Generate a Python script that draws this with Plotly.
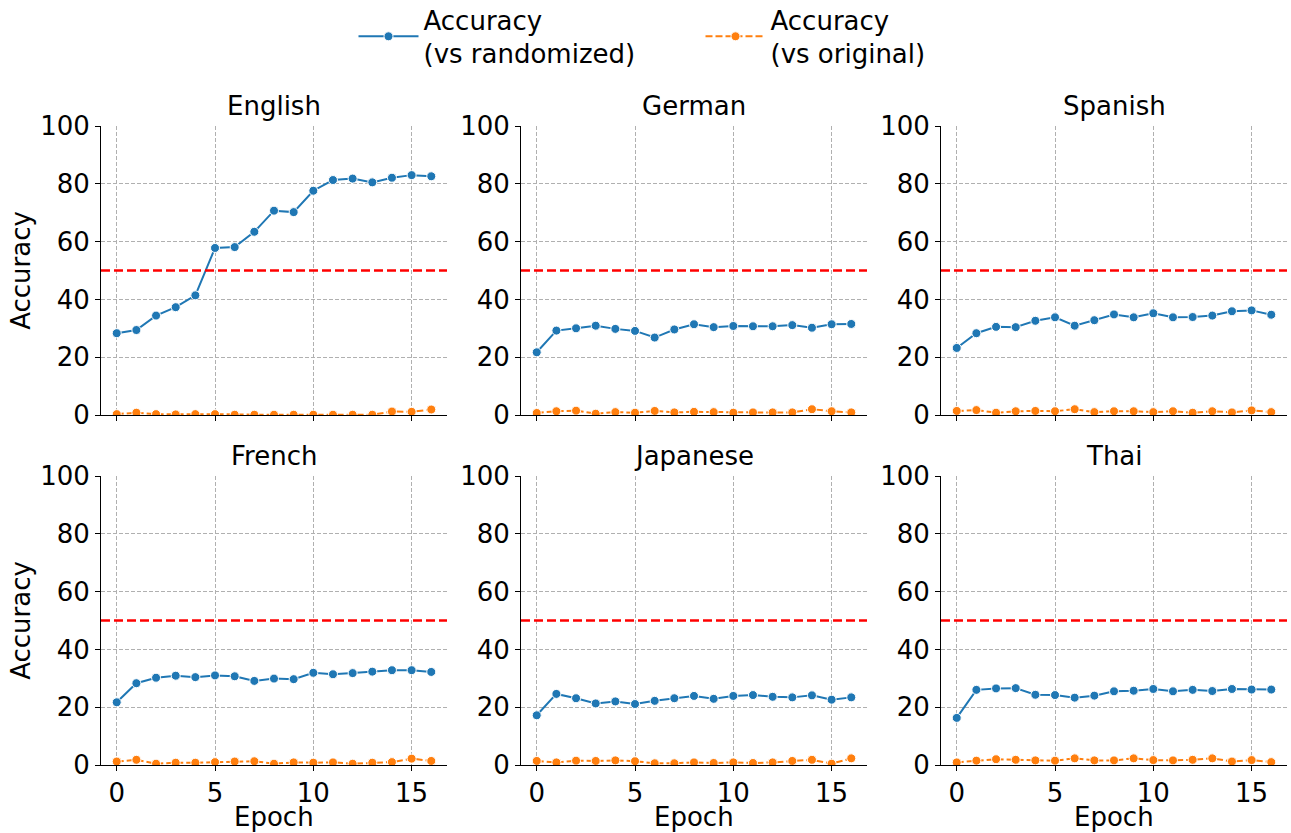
import plotly.graph_objects as go

epochs = list(range(17))
languages = ["English", "German", "Spanish", "French", "Japanese", "Thai"]

acc_randomized = {
    "English": [28.3, 29.4, 34.4, 37.3, 41.4, 57.8, 58.1, 63.4, 70.7, 70.2, 77.6, 81.3, 81.8, 80.5, 82.1, 83.0, 82.6],
    "German": [21.7, 29.2, 30.0, 30.9, 29.8, 29.1, 26.8, 29.6, 31.4, 30.4, 30.8, 30.7, 30.7, 31.1, 30.2, 31.4, 31.5],
    "Spanish": [23.2, 28.3, 30.5, 30.4, 32.6, 33.8, 30.9, 32.8, 34.8, 33.8, 35.2, 33.8, 33.9, 34.4, 35.9, 36.2, 34.7],
    "French": [21.7, 28.3, 30.2, 30.9, 30.4, 31.0, 30.7, 29.1, 29.9, 29.7, 31.9, 31.4, 31.8, 32.3, 32.8, 32.8, 32.2],
    "Japanese": [17.2, 24.6, 23.1, 21.3, 22.0, 21.1, 22.2, 23.1, 23.9, 22.9, 23.9, 24.2, 23.6, 23.4, 24.1, 22.6, 23.4],
    "Thai": [16.3, 26.0, 26.5, 26.6, 24.3, 24.2, 23.3, 24.0, 25.5, 25.7, 26.3, 25.5, 26.0, 25.6, 26.3, 26.1, 26.1],
}
acc_original = {
    "English": [0.3, 0.8, 0.3, 0.2, 0.3, 0.3, 0.1, 0.1, 0.1, 0.1, 0.1, 0.1, 0.1, 0.1, 1.2, 1.1, 1.9],
    "German": [0.7, 1.3, 1.5, 0.45, 1.0, 0.8, 1.4, 0.9, 1.1, 1.0, 0.8, 0.9, 0.9, 0.9, 2.0, 1.3, 0.9],
    "Spanish": [1.4, 1.7, 0.8, 1.3, 1.4, 1.3, 2.0, 1.0, 1.3, 1.3, 1.0, 1.3, 0.8, 1.3, 0.9, 1.6, 1.0],
    "French": [1.2, 1.8, 0.45, 0.8, 0.8, 1.0, 1.2, 1.3, 0.45, 0.9, 0.8, 0.9, 0.45, 0.8, 1.0, 2.2, 1.4],
    "Japanese": [1.4, 0.9, 1.5, 1.4, 1.6, 1.3, 0.6, 0.6, 0.9, 0.7, 0.9, 0.7, 0.9, 1.4, 1.8, 0.45, 2.3],
    "Thai": [0.9, 1.5, 2.0, 1.8, 1.6, 1.5, 2.3, 1.6, 1.6, 2.3, 1.7, 1.6, 1.8, 2.3, 1.2, 1.7, 1.0],
}
threshold = 50
x_ticks = [0, 5, 10, 15]
y_ticks = [0, 20, 40, 60, 80, 100]

W, H = 1291, 833
FONT = "DejaVu Sans"
FS = 26
BLUE = "#1f77b4"
ORANGE = "#ff7f0e"
GRID = "#b0b0b0"

col_px = [(101, 447), (521, 867), (941, 1287)]
row_px = [(126, 415), (476, 765)]

fig = go.Figure()
for i, lang in enumerate(languages):
    r, c = divmod(i, 3)
    n = i + 1
    xa = "x" if n == 1 else f"x{n}"
    ya = "y" if n == 1 else f"y{n}"
    fig.add_trace(go.Scatter(
        x=epochs, y=acc_randomized[lang], mode="lines+markers",
        name="Accuracy<br>(vs randomized)", legendgroup="r", showlegend=(i == 0),
        line=dict(color=BLUE, width=2),
        marker=dict(color=BLUE, size=9, line=dict(color="white", width=1)),
        xaxis=xa, yaxis=ya))
    fig.add_trace(go.Scatter(
        x=epochs, y=acc_original[lang], mode="lines+markers",
        name="Accuracy<br>(vs original)", legendgroup="o", showlegend=(i == 0),
        line=dict(color=ORANGE, width=2, dash="7px,3px"),
        marker=dict(color=ORANGE, size=9, line=dict(color="white", width=1)),
        xaxis=xa, yaxis=ya))

    x0, x1 = col_px[c]
    y0, y1 = row_px[r]
    xkey = "xaxis" if n == 1 else f"xaxis{n}"
    ykey = "yaxis" if n == 1 else f"yaxis{n}"
    fig.layout[xkey] = dict(
        domain=[x0 / W, x1 / W], anchor=ya, range=[-0.8, 16.8], automargin=False,
        tickvals=x_ticks, showticklabels=(r == 1),
        ticks="outside", ticklen=5, tickcolor="black", tickwidth=1,
        showline=True, linecolor="black", linewidth=1, mirror=False,
        showgrid=True, gridcolor=GRID, griddash="4px,2px", gridwidth=1,
        zeroline=False, tickfont=dict(family=FONT, size=FS, color="black"),
    )
    fig.layout[ykey] = dict(
        domain=[1 - y1 / H, 1 - y0 / H], anchor=xa, range=[0, 100], automargin=False,
        tickvals=y_ticks,
        ticks="outside", ticklen=5, tickcolor="black", tickwidth=1,
        showline=True, linecolor="black", linewidth=1, mirror=False,
        showgrid=True, gridcolor=GRID, griddash="4px,2px", gridwidth=1,
        zeroline=False, tickfont=dict(family=FONT, size=FS, color="black"),
        title=dict(text="Accuracy" if c == 0 else "", font=dict(family=FONT, size=FS, color="black"), standoff=2),
    )
    fig.add_shape(type="line", xref=f"{xa} domain", yref=ya, x0=0, x1=1,
                  y0=threshold, y1=threshold, line=dict(color="red", width=2.5, dash="9px,4px"))
    fig.add_annotation(text=lang, xref="paper", yref="paper",
                       x=((x0 + x1) / 2) / W, y=1 - (y0 - 3) / H,
                       xanchor="center", yanchor="bottom", showarrow=False,
                       font=dict(family=FONT, size=FS, color="black"))
    if r == 1:
        fig.add_annotation(text="Epoch", xref="paper", yref="paper",
                           x=((x0 + x1) / 2) / W, y=0,
                           xanchor="center", yanchor="bottom", showarrow=False,
                           borderpad=0, font=dict(family=FONT, size=FS, color="black"))

fig.update_layout(
    width=W, height=H, margin=dict(l=0, r=0, t=0, b=0, autoexpand=False),
    paper_bgcolor="white", plot_bgcolor="white",
    font=dict(family=FONT, color="black"),
    legend=dict(orientation="h", x=0.5 + 55 / W, xanchor="center", y=1 + 4 / H, yanchor="top",
                font=dict(family=FONT, size=FS, color="black"),
                itemwidth=60, entrywidth=272, tracegroupgap=0, bgcolor="rgba(0,0,0,0)"),
)

fig.write_html("out.html", config={"displayModeBar": False},
               post_script="document.body.style.margin='0';document.body.style.overflow='hidden';")
